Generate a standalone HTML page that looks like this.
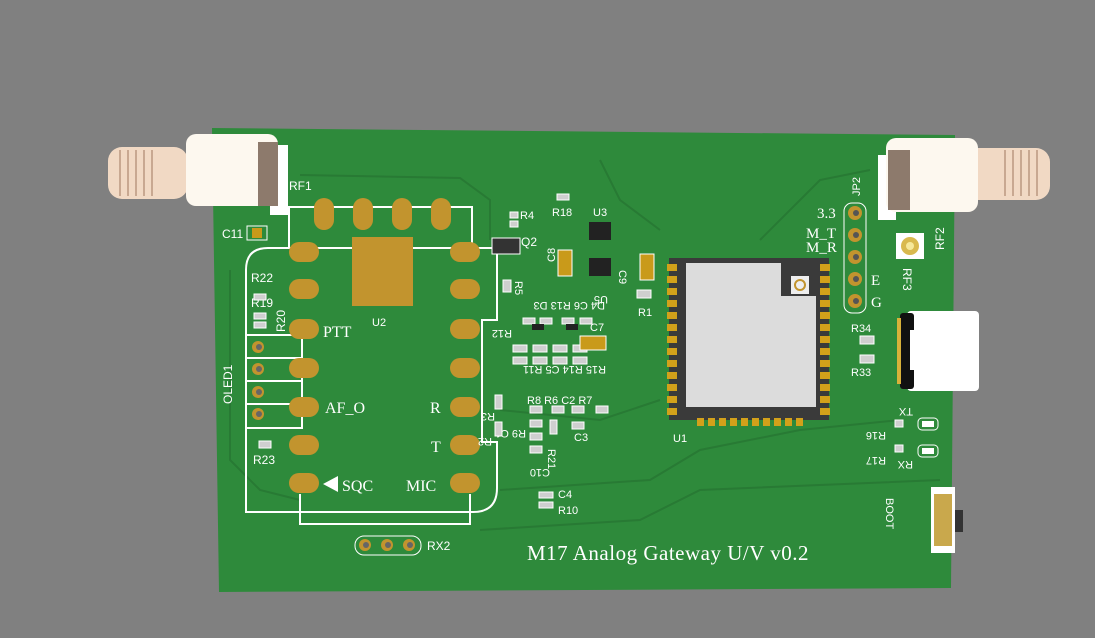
<!DOCTYPE html><html><head><meta charset="utf-8"><style>
body{margin:0;background:#808080}
svg{display:block}
text{font-family:"Liberation Sans",sans-serif;fill:#fff}
.s{font-family:"Liberation Serif",serif}
</style></head><body>
<svg width="1095" height="638" viewBox="0 0 1095 638" xmlns="http://www.w3.org/2000/svg">
<rect width="1095" height="638" fill="#808080"/>
<polygon points="212,128 955,135 951,588 219,592" fill="#2e8a3b"/>
<g fill="none" stroke="#287a34" stroke-width="2">
<path d="M300,175 L460,178 L490,200 L490,240"/><path d="M230,270 L230,460 L260,490 L300,500"/>
<path d="M500,490 L650,480 L700,450 L800,430 L900,420"/><path d="M600,160 L620,200 L660,230"/>
<path d="M760,240 L820,180 L870,170"/><path d="M500,410 L600,420 L660,400"/>
<path d="M480,530 L640,520 L700,490 L940,480"/>
</g>
<!-- RF1 SMA -->
<rect x="270" y="145" width="18" height="70" fill="#fff"/>
<rect x="108" y="147" width="80" height="52" rx="14" fill="#f1d9c4"/>
<g stroke="#c8a891" stroke-width="2"><line x1="120" y1="150" x2="120" y2="196"/><line x1="128" y1="150" x2="128" y2="196"/><line x1="136" y1="150" x2="136" y2="196"/><line x1="144" y1="150" x2="144" y2="196"/><line x1="152" y1="150" x2="152" y2="196"/></g>
<rect x="186" y="134" width="92" height="72" rx="10" fill="#fdf8ef"/>
<rect x="258" y="142" width="20" height="64" fill="#8d7a6c"/>
<text x="289" y="190" font-size="12">RF1</text>
<rect x="247" y="226" width="20" height="14" fill="none" stroke="#fff"/><rect x="252" y="228" width="10" height="10" fill="#c99a1a"/>
<text x="222" y="238" font-size="12">C11</text>
<!-- RF2 SMA -->
<rect x="878" y="155" width="18" height="65" fill="#fff"/>
<rect x="960" y="148" width="90" height="52" rx="14" fill="#f1d9c4"/>
<g stroke="#c8a891" stroke-width="2"><line x1="1005" y1="150" x2="1005" y2="196"/><line x1="1013" y1="150" x2="1013" y2="196"/><line x1="1021" y1="150" x2="1021" y2="196"/><line x1="1029" y1="150" x2="1029" y2="196"/><line x1="1037" y1="150" x2="1037" y2="196"/></g>
<rect x="886" y="138" width="92" height="74" rx="10" fill="#fdf8ef"/>
<rect x="888" y="150" width="22" height="60" fill="#8d7a6c"/>
<text x="0" y="0" font-size="12" transform="translate(944,250) rotate(-90)">RF2</text>
<!-- RF3 -->
<rect x="896" y="233" width="28" height="26" fill="#fff"/><circle cx="910" cy="246" r="9" fill="#d9b94e"/><circle cx="910" cy="246" r="4" fill="#f6e89a"/>
<text x="0" y="0" font-size="12" transform="translate(903,268) rotate(90)">RF3</text>
<!-- U2 -->
<g fill="none" stroke="#fff" stroke-width="2">
<path d="M289,248 L289,207 L472,207 L472,248"/>
<path d="M268,248 L497,248 L497,320 L482,320 L482,442 L497,442 L497,488 Q497,512 473,512 L246,512 L246,270 Q246,248 268,248 Z"/>
<path d="M300,494 L300,524 L470,524 L470,494"/>
<rect x="246" y="335" width="56" height="93"/>
<line x1="246" y1="358" x2="302" y2="358"/><line x1="246" y1="381" x2="302" y2="381"/><line x1="246" y1="404" x2="302" y2="404"/>
</g>
<g fill="#c2942e">
<rect x="314" y="198" width="20" height="32" rx="10"/><rect x="353" y="198" width="20" height="32" rx="10"/><rect x="392" y="198" width="20" height="32" rx="10"/><rect x="431" y="198" width="20" height="32" rx="10"/>
<rect x="352" y="237" width="61" height="69"/>
<rect x="289" y="242" width="30" height="20" rx="10"/><rect x="289" y="279" width="30" height="20" rx="10"/><rect x="289" y="319" width="30" height="20" rx="10"/><rect x="289" y="358" width="30" height="20" rx="10"/><rect x="289" y="397" width="30" height="20" rx="10"/><rect x="289" y="435" width="30" height="20" rx="10"/><rect x="289" y="473" width="30" height="20" rx="10"/>
<rect x="450" y="242" width="30" height="20" rx="10"/><rect x="450" y="279" width="30" height="20" rx="10"/><rect x="450" y="319" width="30" height="20" rx="10"/><rect x="450" y="358" width="30" height="20" rx="10"/><rect x="450" y="397" width="30" height="20" rx="10"/><rect x="450" y="435" width="30" height="20" rx="10"/><rect x="450" y="473" width="30" height="20" rx="10"/>
</g>
<g fill="#c2942e"><circle cx="258" cy="347" r="6"/><circle cx="258" cy="369" r="6"/><circle cx="258" cy="392" r="6"/><circle cx="258" cy="414" r="6"/>
<circle cx="365" cy="545" r="6"/><circle cx="387" cy="545" r="6"/><circle cx="409" cy="545" r="6"/></g>
<g fill="#666"><circle cx="259" cy="347" r="3"/><circle cx="259" cy="369" r="3"/><circle cx="259" cy="392" r="3"/><circle cx="259" cy="414" r="3"/><circle cx="366" cy="545" r="3"/><circle cx="388" cy="545" r="3"/><circle cx="410" cy="545" r="3"/></g>
<rect x="355" y="536" width="66" height="19" rx="9" fill="none" stroke="#fff"/>
<text x="427" y="550" font-size="12">RX2</text>
<text x="372" y="326" font-size="11">U2</text>
<text class="s" x="323" y="337" font-size="16">PTT</text>
<text class="s" x="325" y="413" font-size="16">AF_O</text>
<text class="s" x="430" y="413" font-size="16">R</text>
<text class="s" x="431" y="452" font-size="16">T</text>
<text class="s" x="342" y="491" font-size="16">SQC</text>
<text class="s" x="406" y="491" font-size="16">MIC</text>
<polygon points="323,484 338,476 338,492" fill="#fff"/>
<text x="0" y="0" font-size="12" transform="translate(232,404) rotate(-90)">OLED1</text>
<text x="251" y="282" font-size="12">R22</text><text x="251" y="307" font-size="12">R19</text>
<text x="0" y="0" font-size="12" transform="translate(285,332) rotate(-90)">R20</text>
<text x="253" y="464" font-size="12">R23</text>
<!-- Q2 -->
<rect x="492" y="238" width="28" height="16" fill="#333" stroke="#fff"/>
<text x="521" y="246" font-size="12">Q2</text><text x="520" y="219" font-size="11">R4</text><text x="552" y="216" font-size="11">R18</text>
<text x="0" y="0" font-size="11" transform="translate(515,281) rotate(90)">R5</text>
<!-- small parts -->
<g fill="#fff" font-size="11">
<text x="0" y="0" transform="translate(555,262) rotate(-90)">C8</text>
<text x="0" y="0" transform="translate(512,330) rotate(180)">R12</text>
<text x="0" y="0" transform="translate(605,302) rotate(180)">D4 C6 R13 D3</text>
<text x="590" y="331">C7</text>
<text x="0" y="0" transform="translate(606,366) rotate(180)">R15 R14 C5 R11</text>
<text x="527" y="404">R8 R6 C2 R7</text>
<text x="574" y="441">C3</text>
<text x="0" y="0" transform="translate(526,430) rotate(180)">R9 C1</text>
<text x="0" y="0" transform="translate(495,413) rotate(180)">R3</text>
<text x="0" y="0" transform="translate(492,438) rotate(180)">R2</text>
<text x="0" y="0" transform="translate(548,449) rotate(90)">R21</text>
<text x="0" y="0" transform="translate(550,469) rotate(180)">C10</text>
<text x="558" y="498">C4</text><text x="558" y="514">R10</text>
<text x="593" y="216">U3</text><text x="0" y="0" transform="translate(608,296) rotate(180)">U5</text>
<text x="0" y="0" transform="translate(619,270) rotate(90)">C9</text>
<text x="638" y="316">R1</text>
<text x="673" y="442">U1</text>
<text x="851" y="332">R34</text><text x="851" y="376">R33</text>
<text x="0" y="0" transform="translate(913,408) rotate(180)">TX</text>
<text x="0" y="0" transform="translate(886,432) rotate(180)">R16</text>
<text x="0" y="0" transform="translate(886,457) rotate(180)">R17</text>
<text x="0" y="0" transform="translate(913,461) rotate(180)">RX</text>
<text x="0" y="0" transform="translate(886,498) rotate(90)">BOOT</text>
<text x="0" y="0" transform="translate(860,196) rotate(-90)">JP2</text>
</g>
<g fill="#cfcfcf" stroke="#fff" stroke-width="1">
<rect x="510" y="212" width="8" height="6"/><rect x="510" y="221" width="8" height="6"/><rect x="557" y="194" width="12" height="6"/>
<rect x="503" y="280" width="8" height="12"/><rect x="523" y="318" width="12" height="6"/><rect x="540" y="318" width="12" height="6"/><rect x="562" y="318" width="12" height="6"/><rect x="580" y="318" width="12" height="6"/>
<rect x="513" y="345" width="14" height="7"/><rect x="533" y="345" width="14" height="7"/><rect x="553" y="345" width="14" height="7"/><rect x="573" y="345" width="14" height="7"/>
<rect x="513" y="357" width="14" height="7"/><rect x="533" y="357" width="14" height="7"/><rect x="553" y="357" width="14" height="7"/><rect x="573" y="357" width="14" height="7"/>
<rect x="530" y="406" width="12" height="7"/><rect x="552" y="406" width="12" height="7"/><rect x="572" y="406" width="12" height="7"/><rect x="596" y="406" width="12" height="7"/>
<rect x="530" y="420" width="12" height="7"/><rect x="572" y="422" width="12" height="7"/><rect x="530" y="433" width="12" height="7"/><rect x="530" y="446" width="12" height="7"/><rect x="550" y="420" width="7" height="14"/>
<rect x="495" y="395" width="7" height="14"/><rect x="495" y="422" width="7" height="14"/>
<rect x="539" y="492" width="14" height="6"/><rect x="539" y="502" width="14" height="6"/>
<rect x="637" y="290" width="14" height="8"/><rect x="860" y="336" width="14" height="8"/><rect x="860" y="355" width="14" height="8"/>
<rect x="895" y="420" width="8" height="7"/><rect x="895" y="445" width="8" height="7"/>
<rect x="254" y="294" width="12" height="6"/><rect x="254" y="313" width="12" height="6"/><rect x="254" y="322" width="12" height="6"/><rect x="259" y="441" width="12" height="7"/>
</g>
<rect x="580" y="336" width="26" height="14" fill="#c99a1a" stroke="#fff"/>
<rect x="558" y="250" width="14" height="26" fill="#c99a1a" stroke="#fff"/>
<rect x="640" y="254" width="14" height="26" fill="#c99a1a" stroke="#fff"/>
<g fill="#222"><rect x="589" y="222" width="22" height="18"/><rect x="589" y="258" width="22" height="18"/><rect x="532" y="324" width="12" height="6"/><rect x="566" y="324" width="12" height="6"/></g>
<!-- U1 -->
<rect x="669" y="258" width="160" height="162" fill="#3a3a3a"/>
<path d="M686,263 L781,263 L781,296 L816,296 L816,407 L686,407 Z" fill="#dcdcdc"/>
<rect x="791" y="276" width="18" height="18" fill="#eee"/><circle cx="800" cy="285" r="5" fill="none" stroke="#c2942e" stroke-width="2"/>
<g fill="#d2a11a">
<rect x="667" y="264" width="10" height="7"/><rect x="667" y="276" width="10" height="7"/><rect x="667" y="288" width="10" height="7"/><rect x="667" y="300" width="10" height="7"/><rect x="667" y="312" width="10" height="7"/><rect x="667" y="324" width="10" height="7"/><rect x="667" y="336" width="10" height="7"/><rect x="667" y="348" width="10" height="7"/><rect x="667" y="360" width="10" height="7"/><rect x="667" y="372" width="10" height="7"/><rect x="667" y="384" width="10" height="7"/><rect x="667" y="396" width="10" height="7"/><rect x="667" y="408" width="10" height="7"/>
<rect x="820" y="264" width="10" height="7"/><rect x="820" y="276" width="10" height="7"/><rect x="820" y="288" width="10" height="7"/><rect x="820" y="300" width="10" height="7"/><rect x="820" y="312" width="10" height="7"/><rect x="820" y="324" width="10" height="7"/><rect x="820" y="336" width="10" height="7"/><rect x="820" y="348" width="10" height="7"/><rect x="820" y="360" width="10" height="7"/><rect x="820" y="372" width="10" height="7"/><rect x="820" y="384" width="10" height="7"/><rect x="820" y="396" width="10" height="7"/><rect x="820" y="408" width="10" height="7"/>
<rect x="697" y="418" width="7" height="8"/><rect x="708" y="418" width="7" height="8"/><rect x="719" y="418" width="7" height="8"/><rect x="730" y="418" width="7" height="8"/><rect x="741" y="418" width="7" height="8"/><rect x="752" y="418" width="7" height="8"/><rect x="763" y="418" width="7" height="8"/><rect x="774" y="418" width="7" height="8"/><rect x="785" y="418" width="7" height="8"/><rect x="796" y="418" width="7" height="8"/>
</g>
<!-- JP2 -->
<rect x="844" y="203" width="22" height="110" rx="8" fill="none" stroke="#fff"/>
<g fill="#c2942e"><circle cx="855" cy="213" r="7"/><circle cx="855" cy="235" r="7"/><circle cx="855" cy="257" r="7"/><circle cx="855" cy="279" r="7"/><circle cx="855" cy="301" r="7"/></g>
<g fill="#555"><circle cx="856" cy="213" r="3"/><circle cx="856" cy="235" r="3"/><circle cx="856" cy="257" r="3"/><circle cx="856" cy="279" r="3"/><circle cx="856" cy="301" r="3"/></g>
<g class="s" font-size="15"><text class="s" x="817" y="218">3.3</text><text class="s" x="806" y="238">M_T</text><text class="s" x="806" y="252">M_R</text><text class="s" x="871" y="285">E</text><text class="s" x="871" y="307">G</text></g>
<!-- USB-C -->
<rect x="907" y="311" width="72" height="80" rx="4" fill="#fff"/>
<rect x="900" y="313" width="14" height="76" rx="3" fill="#111"/>
<rect x="897" y="318" width="4" height="66" fill="#d9b13a"/>
<rect x="910" y="330" width="10" height="40" fill="#fff"/>
<!-- LEDs -->
<rect x="918" y="418" width="20" height="12" rx="4" fill="none" stroke="#fff"/><rect x="922" y="421" width="12" height="6" fill="#fff"/>
<rect x="918" y="445" width="20" height="12" rx="4" fill="none" stroke="#fff"/><rect x="922" y="448" width="12" height="6" fill="#fff"/>
<!-- BOOT button -->
<rect x="931" y="487" width="24" height="66" fill="#fff"/><rect x="934" y="494" width="18" height="52" fill="#c9a84c"/><rect x="955" y="510" width="8" height="22" fill="#333"/>
<text class="s" x="527" y="560" font-size="21" letter-spacing="0.5">M17 Analog Gateway U/V v0.2</text>
</svg>
</body></html>
